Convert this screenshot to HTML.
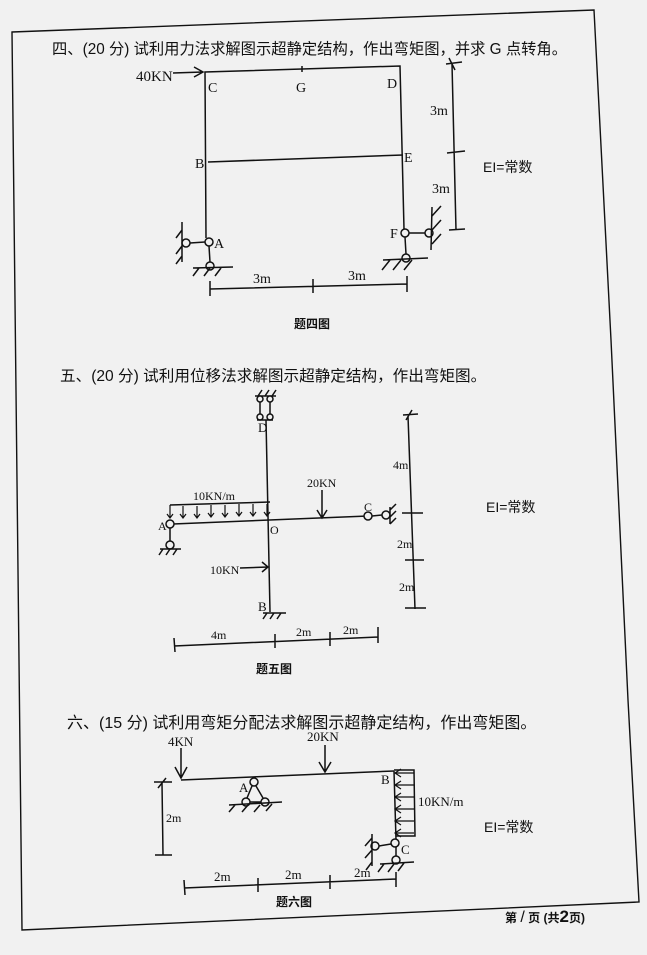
<!DOCTYPE html>
<html><head><meta charset="utf-8"><style>
html,body{margin:0;padding:0;background:#f1f1f1;}
svg{display:block;}
text{font-family:"Liberation Serif","Noto Serif CJK SC",serif;fill:#111;}
.cn{font-family:"Liberation Sans","Noto Sans CJK SC",sans-serif;}
</style></head><body>
<svg width="647" height="955" viewBox="0 0 647 955" xmlns="http://www.w3.org/2000/svg">
<rect width="647" height="955" fill="#f1f1f1"/>
<g stroke="#111" stroke-width="1.6" fill="none">
<path d="M12 32 L594 10 L611 340 L628 700 L639 902 L22 930 Z" stroke-width="1.4"/>
</g>
<text class="cn" x="52" y="54" font-size="15.3">四、(20 分) 试利用力法求解图示超静定结构，作出弯矩图，并求 G 点转角。</text>
<text class="cn" x="60" y="381" font-size="15.6">五、(20 分) 试利用位移法求解图示超静定结构，作出弯矩图。</text>
<text class="cn" x="67" y="728" font-size="16">六、(15 分) 试利用弯矩分配法求解图示超静定结构，作出弯矩图。</text>

<!-- Diagram 1 -->
<g stroke="#111" stroke-width="1.5" fill="none">
<path d="M206 238 L205 72 L400 66 L404 229"/>
<path d="M208 162 L403 155"/>
<path d="M173 73 L203 72 M194 67 L203 72 L194 77"/>
<path d="M302 66 L302 72"/>
<circle cx="209" cy="242" r="4" fill="#f1f1f1"/>
<circle cx="186" cy="243" r="4" fill="#f1f1f1"/>
<path d="M190 243 L205 242 M209 246 L210 262"/>
<circle cx="210" cy="266" r="4" fill="#f1f1f1"/>
<path d="M182 222 L182 262 M182 230 L176 238 M182 246 L176 254 M182 256 L176 264"/>
<path d="M193 268 L233 267 M199 268 L193 276 M210 268 L204 276 M221 268 L215 276"/>
<circle cx="405" cy="233" r="4" fill="#f1f1f1"/>
<circle cx="429" cy="233" r="4" fill="#f1f1f1"/>
<path d="M409 233 L425 233 M405 237 L406 254 M432 207 L431 250 M432 216 L441 206 M432 230 L441 220 M432 244 L441 234"/>
<circle cx="406" cy="258" r="4" fill="#f1f1f1"/>
<path d="M383 260 L428 258 M390 260 L382 270 M401 260 L393 270 M412 260 L404 270"/>
<path d="M452 64 L456 230 M446 64 L462 62 M447 153 L465 151 M449 230 L465 229 M449 58 L455 70"/>
<path d="M210 289 L407 284 M210 281 L210 296 M313 279 L313 293 M407 276 L407 292"/>
</g>
<text x="136" y="81" font-size="15">40KN</text>
<text x="208" y="92" font-size="14">C</text>
<text x="296" y="92" font-size="14">G</text>
<text x="387" y="88" font-size="14">D</text>
<text x="195" y="168" font-size="14">B</text>
<text x="404" y="162" font-size="14">E</text>
<text x="214" y="248" font-size="14">A</text>
<text x="390" y="238" font-size="14">F</text>
<text x="430" y="115" font-size="14">3m</text>
<text x="432" y="193" font-size="14">3m</text>
<text x="483" y="172" font-size="14" class="cn">EI=常数</text>
<text x="253" y="283" font-size="14">3m</text>
<text x="348" y="280" font-size="14">3m</text>
<text x="294" y="328" font-size="12" class="cn" font-weight="bold">题四图</text>

<!-- Diagram 2 -->
<g stroke="#111" stroke-width="1.5" fill="none">
<path d="M255 396 L276 396 M258 396 L262 390 M265 396 L269 390 M272 396 L276 390"/>
<circle cx="260" cy="399" r="3" fill="#f1f1f1"/><circle cx="270" cy="399" r="3" fill="#f1f1f1"/>
<circle cx="260" cy="417" r="3" fill="#f1f1f1"/><circle cx="270" cy="417" r="3" fill="#f1f1f1"/>
<path d="M260 402 L260 414 M270 402 L270 414 M257 420 L273 420"/>
<path d="M266 420 L270 612"/>
<path d="M173 524 L368 516"/>
<path d="M170 505 L270 502"/>
<g stroke-width="1.2">
<path d="M170 505 L170 518 M167 514 L170 518 L173 514"/>
<path d="M183 506 L183 518 M180 514 L183 518 L186 514"/>
<path d="M197 506 L197 518 M194 514 L197 518 L200 514"/>
<path d="M211 505 L211 517 M208 513 L211 517 L214 513"/>
<path d="M225 505 L225 517 M222 513 L225 517 L228 513"/>
<path d="M239 504 L239 516 M236 512 L239 516 L242 512"/>
<path d="M253 504 L253 516 M250 512 L253 516 L256 512"/>
<path d="M267 504 L267 516 M264 512 L267 516 L270 512"/>
</g>
<path d="M322 490 L322 518 M317 510 L322 518 L327 510"/>
<circle cx="368" cy="516" r="4" fill="#f1f1f1"/><circle cx="386" cy="515" r="4" fill="#f1f1f1"/>
<path d="M372 516 L382 515 M390 507 L390 524 M390 510 L396 504 M390 517 L396 511 M390 524 L396 518"/>
<circle cx="170" cy="524" r="4" fill="#f1f1f1"/><circle cx="170" cy="545" r="4" fill="#f1f1f1"/>
<path d="M170 528 L170 541 M160 549 L181 549 M163 549 L159 555 M170 549 L166 555 M177 549 L173 555"/>
<path d="M240 568 L268 567 M262 562 L268 567 L262 572"/>
<path d="M263 613 L286 613 M267 613 L263 619 M274 613 L270 619 M281 613 L277 619"/>
<path d="M408 416 L415 609 M403 415 L418 414 M402 513 L423 513 M412 410 L406 420 M405 560 L424 560 M405 608 L426 608"/>
<path d="M174 646 L378 637 M174 638 L175 652 M275 634 L275 648 M330 632 L330 646 M378 627 L378 643"/>
</g>
<text x="258" y="432" font-size="13">D</text>
<text x="193" y="500" font-size="12">10KN/m</text>
<text x="307" y="487" font-size="12">20KN</text>
<text x="364" y="511" font-size="12">C</text>
<text x="158" y="530" font-size="12">A</text>
<text x="270" y="534" font-size="12">O</text>
<text x="210" y="574" font-size="12">10KN</text>
<text x="258" y="611" font-size="13">B</text>
<text x="393" y="469" font-size="12">4m</text>
<text x="397" y="548" font-size="12">2m</text>
<text x="399" y="591" font-size="12">2m</text>
<text x="486" y="512" font-size="14" class="cn">EI=常数</text>
<text x="211" y="639" font-size="12">4m</text>
<text x="296" y="636" font-size="12">2m</text>
<text x="343" y="634" font-size="12">2m</text>
<text x="256" y="673" font-size="12" class="cn" font-weight="bold">题五图</text>

<!-- Diagram 3 -->
<g stroke="#111" stroke-width="1.5" fill="none">
<path d="M181 780 L394 771"/>
<path d="M181 748 L181 778 M175 767 L181 778 L187 767"/>
<path d="M325 745 L325 772 M319 762 L325 772 L331 762"/>
<circle cx="254" cy="782" r="4" fill="#f1f1f1"/>
<circle cx="246" cy="802" r="4" fill="#f1f1f1"/><circle cx="265" cy="802" r="4" fill="#f1f1f1"/>
<path d="M252 786 L247 798 M256 786 L263 798 M250 802 L261 802 M229 805 L282 802 M235 805 L229 812 M248 805 L242 812 M260 805 L254 812 M272 804 L266 811"/>
<path d="M394 771 L396 840 M394 770 L414 770 L415 836 L396 836"/>
<g stroke-width="1.2">
<path d="M414 773 L395 773 M401 769 L395 773 L401 777"/>
<path d="M414 785 L395 785 M401 781 L395 785 L401 789"/>
<path d="M414 797 L395 797 M401 793 L395 797 L401 801"/>
<path d="M414 809 L395 809 M401 805 L395 809 L401 813"/>
<path d="M414 821 L395 821 M401 817 L395 821 L401 825"/>
<path d="M414 833 L395 833 M401 829 L395 833 L401 837"/>
</g>
<circle cx="395" cy="843" r="4" fill="#f1f1f1"/><circle cx="375" cy="846" r="4" fill="#f1f1f1"/>
<path d="M379 846 L391 844 M372 834 L372 866 M372 838 L365 846 M372 850 L365 858 M372 862 L366 870 M396 847 L396 856"/>
<circle cx="396" cy="860" r="4" fill="#f1f1f1"/>
<path d="M380 864 L414 862 M384 864 L378 872 M394 864 L388 872 M404 863 L398 871"/>
<path d="M162 783 L163 855 M154 782 L172 782 M155 855 L172 855 M158 788 L166 778"/>
<path d="M184 888 L396 879 M184 880 L185 895 M258 878 L258 892 M330 875 L330 889 M396 872 L396 887"/>
</g>
<text x="168" y="746" font-size="13">4KN</text>
<text x="307" y="741" font-size="13">20KN</text>
<text x="239" y="792" font-size="13">A</text>
<text x="381" y="784" font-size="13">B</text>
<text x="401" y="854" font-size="13">C</text>
<text x="418" y="806" font-size="13">10KN/m</text>
<text x="166" y="822" font-size="12">2m</text>
<text x="484" y="832" font-size="14" class="cn">EI=常数</text>
<text x="214" y="881" font-size="13">2m</text>
<text x="285" y="879" font-size="13">2m</text>
<text x="354" y="877" font-size="13">2m</text>
<text x="276" y="906" font-size="12" class="cn" font-weight="bold">题六图</text>

<text x="505" y="922" font-size="12" class="cn" font-weight="bold">第 <tspan font-size="16" font-weight="normal">/</tspan> 页 (共<tspan font-size="17" font-weight="bold">2</tspan>页)</text>
</svg>
</body></html>
